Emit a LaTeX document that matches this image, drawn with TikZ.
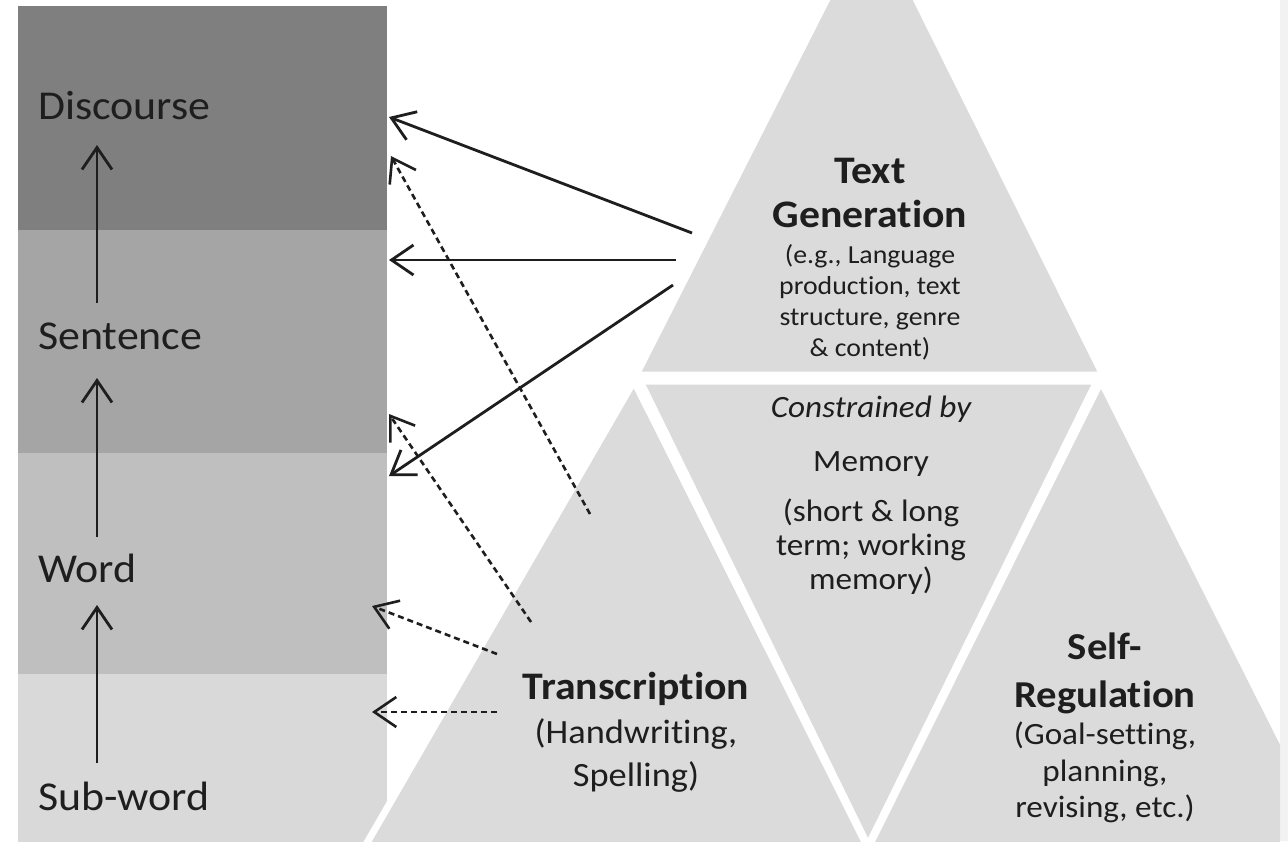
\documentclass[tikz,border=0pt]{standalone}
\usepackage{fontspec}
\setmainfont{Carlito}[FakeStretch=1.07, Ligatures={NoCommon}]
\usetikzlibrary{arrows.meta}

\definecolor{bandA}{HTML}{7F7F7F}
\definecolor{bandB}{HTML}{A5A5A5}
\definecolor{bandC}{HTML}{BFBFBF}
\definecolor{bandD}{HTML}{D9D9D9}
\definecolor{trigray}{HTML}{DBDBDB}
\definecolor{ink}{HTML}{1E1E1E}
\definecolor{edgegray}{HTML}{F2F2F2}

\begin{document}
\begin{tikzpicture}[x=1pt,y=-1pt,
  band/.style={inner sep=0, outer sep=0, minimum width=369pt, anchor=north west},
  tri/.style={fill=trigray, draw=white, line width=7pt, line join=miter},
  lbl/.style={inner sep=0, text=ink, font=\fontsize{41}{49}\selectfont, anchor=base west},
  ttl/.style={inner sep=0, text=ink, align=center, font=\bfseries\fontsize{39}{45}\selectfont},
  dsc/.style={inner sep=0, text=ink, align=center, anchor=north},
  barb/.tip={Straight Barb[length=22pt, width=30pt]},
  uparrow/.style={draw=ink, line width=2.8pt, -barb},
  solidarrow/.style={draw=ink, line width=2.8pt, -barb},
  dasharrow/.style={draw=ink, line width=2.6pt, dash pattern=on 6pt off 4pt, -barb}
]
\useasboundingbox (0,0) rectangle (1288,841);
\fill[white] (0,0) rectangle (1288,841);
\fill[edgegray] (1280,0) rectangle (1288,841);

% the four levels of the left column
\node[band, fill=bandA, minimum height=224pt] (disc) at (18,6) {};
\node[band, fill=bandB, minimum height=223pt] (sent) at (18,230) {};
\node[band, fill=bandC, minimum height=221pt] (word) at (18,453) {};
\node[band, fill=bandD, minimum height=171pt] (sub)  at (18,674) {};

% the four triangles with white borders
\begin{scope}
  \clip (0,0) rectangle (1280,841);
  \path[tri] (872,-90) -- (636,375) -- (1103,375) -- cycle;
  \path[tri] (364,848) -- (634,381) -- (868,848) -- cycle;
  \path[tri] (640,381) -- (1097,381) -- (868,846) -- cycle;
  \path[tri] (868,848) -- (1101,381) -- (1336,848) -- cycle;
\end{scope}

% column labels
\node[lbl] (tdisc) at (38,119) {Discourse};
\node[lbl] (tsent) at (38,349) {Sentence};
\node[lbl] (tword) at (38,582) {Word};
\node[lbl] (tsub)  at (38,810) {Sub-word};

% upward arrows between levels
\coordinate (u1a) at (97,303); \coordinate (u1b) at (97,145);
\coordinate (u2a) at (97,537); \coordinate (u2b) at (97,378);
\coordinate (u3a) at (97,763); \coordinate (u3b) at (97,605);
\draw[uparrow] (u1a) -- (u1b);
\draw[uparrow] (u2a) -- (u2b);
\draw[uparrow] (u3a) -- (u3b);

% text generation
\node[ttl, anchor=north] (tgT) at (870,158) {Text};
\node[ttl, anchor=base] (tgG) at (870,227) {Generation};
\node[dsc, font=\fontsize{26}{31}\selectfont] (tgD) at (870,244)
  {(e.g., Language\\production, text\\structure, genre\\\& content)};

% memory
\node[dsc, font=\itshape\fontsize{31}{36}\selectfont] (memC) at (871,396) {Constrained by};
\node[dsc, font=\fontsize{31}{36}\selectfont] (memM) at (871,451) {Memory};
\node[dsc, font=\fontsize{31}{34}\selectfont] (memD) at (871,499)
  {(short \& long\\term; working\\memory)};

% transcription
\node[ttl, anchor=north] (trT) at (636,672) {Transcription};
\node[dsc, font=\fontsize{34}{43}\selectfont] (trD) at (636,718)
  {(Handwriting,\\Spelling)};

% self-regulation
\node[ttl, anchor=north, font=\bfseries\fontsize{38}{48}\selectfont] (srT) at (1105,633) {Self-\\Regulation};
\node[dsc, font=\fontsize{31}{36.5}\selectfont] (srD) at (1105,722)
  {(Goal-setting,\\planning,\\revising, etc.)};

% arrows from text generation to the column
\coordinate (g1) at (692,233); \coordinate (h1) at (389,117);
\coordinate (g2) at (676,260); \coordinate (h2) at (389,260);
\coordinate (g3) at (673,285); \coordinate (h3) at (389,476);
\draw[solidarrow] (g1) -- (h1);
\draw[solidarrow] (g2) -- (h2);
\draw[solidarrow] (g3) -- (h3);

% dashed arrows from transcription to the column
\coordinate (t1) at (590,514); \coordinate (k1) at (391,156);
\coordinate (t2) at (531,622); \coordinate (k2) at (389,414);
\coordinate (t3) at (497,654); \coordinate (k3) at (372,606);
\coordinate (t4) at (497,712); \coordinate (k4) at (372,712);
\draw[dasharrow] (t1) -- (k1);
\draw[dasharrow] (t2) -- (k2);
\draw[dasharrow] (t3) -- (k3);
\draw[dasharrow] (t4) -- (k4);
\end{tikzpicture}
\end{document}
